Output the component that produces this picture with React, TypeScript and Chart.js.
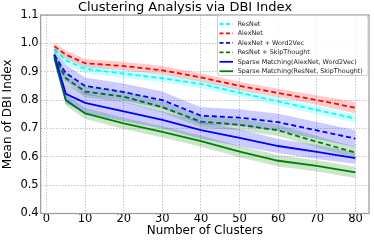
import React, { useEffect, useRef } from "react";
import { Chart, registerables } from "chart.js";

Chart.register(...registerables);

const clusters = [2, 5, 10, 20, 30, 40, 50, 60, 70, 80];
const xTicks = [0, 10, 20, 30, 40, 50, 60, 70, 80];
const yTicks = [0.4, 0.5, 0.6, 0.7, 0.8, 0.9, 1.0, 1.1];

const resnet = [0.98, 0.94, 0.91, 0.893, 0.877, 0.857, 0.826, 0.795, 0.765, 0.735];
const resnetStd = [0.012, 0.015, 0.015, 0.015, 0.015, 0.015, 0.015, 0.015, 0.015, 0.015];
const alexnet = [0.99, 0.96, 0.93, 0.92, 0.905, 0.88, 0.85, 0.825, 0.8, 0.773];
const alexnetStd = [0.012, 0.015, 0.015, 0.015, 0.015, 0.015, 0.015, 0.015, 0.017, 0.02];
const alexW2V = [0.96, 0.895, 0.85, 0.828, 0.8, 0.745, 0.738, 0.722, 0.693, 0.664];
const alexW2VStd = [0.02, 0.03, 0.03, 0.03, 0.03, 0.03, 0.03, 0.03, 0.03, 0.03];
const resSkip = [0.955, 0.877, 0.83, 0.812, 0.775, 0.724, 0.713, 0.693, 0.653, 0.615];
const resSkipStd = [0.015, 0.02, 0.02, 0.02, 0.02, 0.02, 0.02, 0.02, 0.02, 0.02];
const smAlex = [0.96, 0.822, 0.79, 0.76, 0.73, 0.694, 0.667, 0.638, 0.617, 0.595];
const smAlexStd = [0.02, 0.035, 0.035, 0.035, 0.03, 0.03, 0.03, 0.025, 0.025, 0.02];
const smRes = [0.95, 0.8, 0.753, 0.718, 0.688, 0.655, 0.618, 0.586, 0.568, 0.545];
const smResStd = [0.015, 0.02, 0.02, 0.02, 0.02, 0.02, 0.02, 0.02, 0.02, 0.02];

const labels = [
  "ResNet",
  "AlexNet",
  "AlexNet + Word2Vec",
  "ResNet + SkipThought",
  "Sparse Matching(AlexNet, Word2Vec)",
  "Sparse Matching(ResNet, SkipThought)",
];

const FONT = "'DejaVu Sans', sans-serif";

export default function App() {
  const ref = useRef<HTMLCanvasElement>(null);

  useEffect(() => {
    document.body.style.margin = "0";
    const series = [
      { label: labels[0], mean: resnet, std: resnetStd, color: "#00ffff", band: "rgba(0,255,255,0.2)", dash: [5, 3] },
      { label: labels[1], mean: alexnet, std: alexnetStd, color: "#ff0000", band: "rgba(255,0,0,0.2)", dash: [5, 3] },
      { label: labels[2], mean: alexW2V, std: alexW2VStd, color: "#0000ff", band: "rgba(0,0,255,0.2)", dash: [5, 3] },
      { label: labels[3], mean: resSkip, std: resSkipStd, color: "#008000", band: "rgba(0,128,0,0.2)", dash: [5, 3] },
      { label: labels[4], mean: smAlex, std: smAlexStd, color: "#0000ff", band: "rgba(0,0,255,0.2)", dash: [] as number[] },
      { label: labels[5], mean: smRes, std: smResStd, color: "#008000", band: "rgba(0,128,0,0.2)", dash: [] as number[] },
    ];

    const datasets: any[] = [];
    series.forEach((s) => {
      datasets.push({
        label: "_band_hi",
        data: clusters.map((x, i) => ({ x, y: s.mean[i] + s.std[i] })),
        borderWidth: 0,
        pointRadius: 0,
        fill: false,
      });
      datasets.push({
        label: "_band_lo",
        data: clusters.map((x, i) => ({ x, y: s.mean[i] - s.std[i] })),
        borderWidth: 0,
        pointRadius: 0,
        fill: "-1",
        backgroundColor: s.band,
      });
    });
    series.forEach((s) => {
      datasets.push({
        label: s.label,
        data: clusters.map((x, i) => ({ x, y: s.mean[i] })),
        borderColor: s.color,
        borderWidth: 1.8,
        borderDash: s.dash,
        pointRadius: 0,
        fill: false,
        tension: 0,
      });
    });

    const framePlugin = {
      id: "frame",
      afterDraw(chart: any) {
        const { ctx, chartArea } = chart;
        ctx.save();
        ctx.strokeStyle = "#999999";
        ctx.lineWidth = 1.2;
        ctx.strokeRect(chartArea.left, chartArea.top, chartArea.right - chartArea.left, chartArea.bottom - chartArea.top);

        // legend
        const bx = 217.5, by = 15.5, bw = 150.5, bh = 60;
        const r = 2.5;
        ctx.beginPath();
        ctx.moveTo(bx + r, by);
        ctx.lineTo(bx + bw - r, by);
        ctx.quadraticCurveTo(bx + bw, by, bx + bw, by + r);
        ctx.lineTo(bx + bw, by + bh - r);
        ctx.quadraticCurveTo(bx + bw, by + bh, bx + bw - r, by + bh);
        ctx.lineTo(bx + r, by + bh);
        ctx.quadraticCurveTo(bx, by + bh, bx, by + bh - r);
        ctx.lineTo(bx, by + r);
        ctx.quadraticCurveTo(bx, by, bx + r, by);
        ctx.closePath();
        ctx.fillStyle = "rgba(255,255,255,0.85)";
        ctx.fill();
        ctx.strokeStyle = "#cccccc";
        ctx.lineWidth = 1;
        ctx.stroke();

        ctx.font = "6.4px " + FONT;
        ctx.textBaseline = "middle";
        ctx.textAlign = "left";
        series.forEach((s, i) => {
          const y = 24 + i * 9.45;
          ctx.beginPath();
          ctx.setLineDash(s.dash.length ? [4, 2.5] : []);
          ctx.strokeStyle = s.color;
          ctx.lineWidth = 1.8;
          ctx.moveTo(219.5, y);
          ctx.lineTo(233, y);
          ctx.stroke();
          ctx.setLineDash([]);
          ctx.fillStyle = "#222222";
          ctx.fillText(s.label, 237.7, y + 0.3);
        });
        ctx.restore();
      },
    };

    const gridColor = "rgba(176,176,176,0.9)";
    const chart = new Chart(ref.current!, {
      type: "line",
      data: { datasets },
      plugins: [framePlugin],
      options: {
        animation: false,
        responsive: false,
        maintainAspectRatio: false,
        layout: { padding: { left: 1, right: 5, top: 0, bottom: 0 } },
        plugins: {
          legend: { display: false },
          tooltip: { enabled: false },
          title: {
            display: true,
            text: "Clustering Analysis via DBI Index",
            color: "#000000",
            font: { family: FONT, size: 13, weight: "normal", lineHeight: 1 },
            padding: { top: 1, bottom: 1 },
          },
        },
        scales: {
          x: {
            type: "linear",
            min: -1.5,
            max: 83.5,
            afterBuildTicks: (axis: any) => {
              axis.ticks = xTicks.map((v) => ({ value: v }));
            },
            ticks: {
              color: "#000000",
              font: { family: FONT, size: 11.5, lineHeight: 1 },
              padding: 0,
              maxRotation: 0,
              autoSkip: false,
            },
            grid: { color: gridColor, lineWidth: 0.8, drawTicks: false },
            border: { display: false, dash: [1.5, 1.5] },
            title: {
              display: true,
              text: "Number of Clusters",
              color: "#000000",
              font: { family: FONT, size: 12, lineHeight: 1 },
              padding: { top: 0, bottom: 4 },
            },
          },
          y: {
            type: "linear",
            min: 0.4,
            max: 1.1,
            afterBuildTicks: (axis: any) => {
              axis.ticks = yTicks.map((v) => ({ value: v }));
            },
            ticks: {
              color: "#000000",
              font: { family: FONT, size: 11.5 },
              padding: 2,
              callback: (v: any) => Number(v).toFixed(1),
            },
            grid: { color: gridColor, lineWidth: 0.8, drawTicks: false },
            border: { display: false, dash: [1.5, 1.5] },
            title: {
              display: true,
              text: "Mean of DBI Index",
              color: "#000000",
              font: { family: FONT, size: 12 },
              padding: { top: 0, bottom: 3 },
            },
          },
        },
      } as any,
    });
    return () => chart.destroy();
  }, []);

  return (
    <div style={{ width: 374, height: 241, position: "relative" }}>
      <canvas ref={ref} width={374} height={241} style={{ display: "block" }} />
    </div>
  );
}
